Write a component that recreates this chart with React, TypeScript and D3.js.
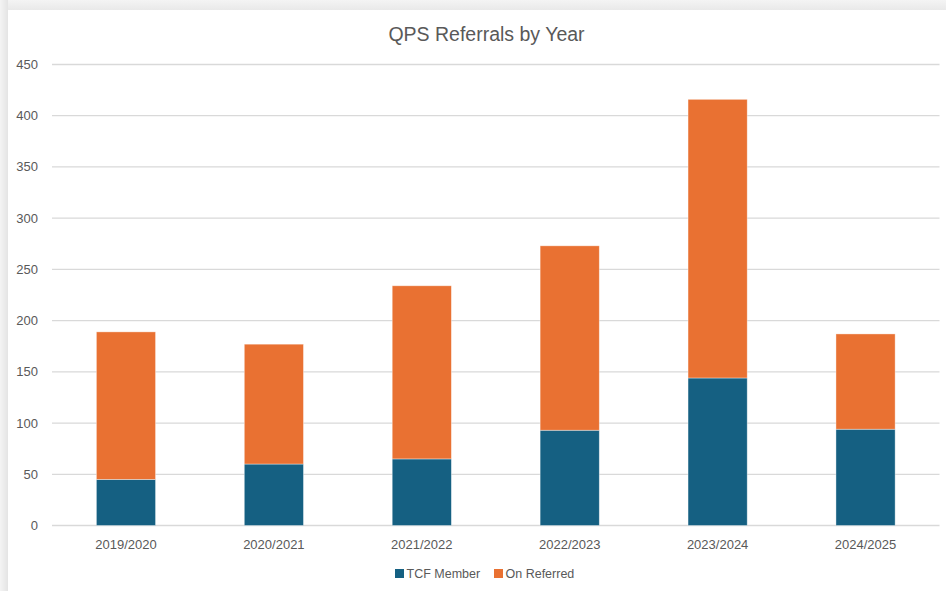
import React from "react";
import * as d3 from "d3";

const categories = ["2019/2020", "2020/2021", "2021/2022", "2022/2023", "2023/2024", "2024/2025"];
const tcfMember = [45, 60, 65, 93, 144, 94];
const onReferred = [144, 117, 169, 180, 272, 93];
const yTicks = [0, 50, 100, 150, 200, 250, 300, 350, 400, 450];
const seriesNames = ["TCF Member", "On Referred"];
const seriesColors = ["#156082", "#E97132"];

const W = 946;
const H = 591;
const plotLeft = 52;
const plotRight = 939.5;
const plotTop = 64.5;
const plotBottom = 525.5;
const font = "'Liberation Sans', Arial, sans-serif";
const textColor = "#595959";

export default function App() {
  const x = d3.scaleBand<string>().domain(categories).range([plotLeft, plotRight]).paddingInner(0.6).paddingOuter(0.3);
  const y = d3.scaleLinear().domain([0, 450]).range([plotBottom, plotTop]);

  const rows = categories.map((c, i) => ({ cat: c, tcf: tcfMember[i], on: onReferred[i] }));
  const stack = d3.stack<any>().keys(["tcf", "on"])(rows);

  return (
    <svg width={W} height={H} style={{ position: "absolute", left: 0, top: 0 }} xmlns="http://www.w3.org/2000/svg">
      <defs>
        <linearGradient id="topband" x1="0" y1="0" x2="0" y2="1">
          <stop offset="0" stopColor="#f4f4f4" />
          <stop offset="1" stopColor="#e9e9e9" />
        </linearGradient>
        <linearGradient id="leftband" x1="0" y1="0" x2="1" y2="0">
          <stop offset="0" stopColor="#f4f4f4" />
          <stop offset="1" stopColor="#e4e4e4" />
        </linearGradient>
      </defs>
      <rect x={0} y={0} width={W} height={H} fill="#f2f2f2" />
      <rect x={0} y={0} width={W} height={10} fill="url(#topband)" />
      <rect x={0} y={0} width={8} height={H} fill="url(#leftband)" />
      <rect x={8} y={10} width={W - 8} height={H - 10} fill="#ffffff" />

      <text x={486.5} y={41} textAnchor="middle" fontFamily={font} fontSize={19.5} fill={textColor}>
        QPS Referrals by Year
      </text>

      {yTicks.map((t) => (
        <g key={t}>
          <line x1={plotLeft} x2={plotRight} y1={y(t)} y2={y(t)} stroke="#d9d9d9" strokeWidth={1.3} />
          <text x={38} y={y(t) + 4.5} textAnchor="end" fontFamily={font} fontSize={13} fill={textColor}>
            {t}
          </text>
        </g>
      ))}

      {stack.map((s, si) => (
        <g key={si} fill={seriesColors[si]}>
          {s.map((d: any, i: number) => (
            <rect
              key={i}
              x={x(categories[i])!}
              width={x.bandwidth()}
              y={y(d[1])}
              height={y(d[0]) - y(d[1])}
              stroke="#ffffff"
              strokeOpacity={0.5}
              strokeWidth={0.75}
            />
          ))}
        </g>
      ))}

      {categories.map((c) => (
        <text key={c} x={x(c)! + x.bandwidth() / 2} y={549} textAnchor="middle" fontFamily={font} fontSize={13} fill={textColor}>
          {c}
        </text>
      ))}

      {seriesNames.map((n, i) => {
        const lx = [395, 494][i];
        return (
          <g key={n}>
            <rect x={lx} y={569} width={9} height={9} fill={seriesColors[i]} />
            <text x={lx + 11.5} y={577.5} fontFamily={font} fontSize={12.5} fill={textColor}>
              {n}
            </text>
          </g>
        );
      })}
    </svg>
  );
}
